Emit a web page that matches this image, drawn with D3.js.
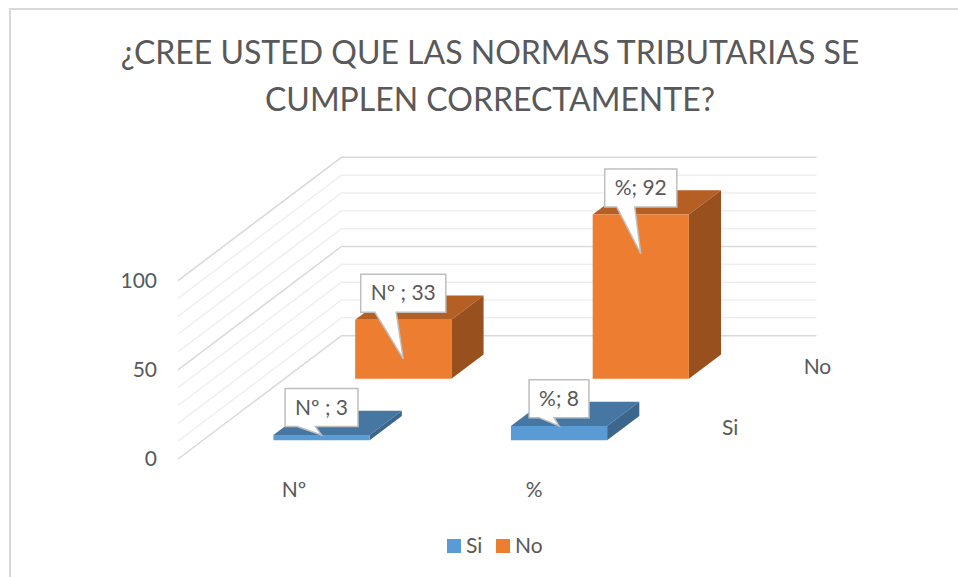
<!DOCTYPE html>
<html>
<head>
<meta charset="utf-8">
<script src="https://cdn.jsdelivr.net/npm/d3@7"></script>
<style>
  html, body { margin: 0; padding: 0; background: #fff; }
  svg { display: block; }
  text { font-family: Lato, sans-serif; fill: #595959; white-space: pre; }
</style>
</head>
<body>
<div id="vis"></div>
<script>
var titleLines = ["¿CREE USTED QUE LAS NORMAS TRIBUTARIAS SE", "CUMPLEN CORRECTAMENTE?"];
var categories = ["Nº ", "%"];
var seriesNames = ["Si", "No"];
var siValues = [3, 8];
var noValues = [33, 92];
var valueTicks = [0, 50, 100];
var gridValues = [0, 10, 20, 30, 40, 50, 60, 70, 80, 90, 100];

var width = 958, height = 577;

var svg = d3.select("#vis").append("svg")
    .attr("width", width)
    .attr("height", height);

// chart frame, only top and left edges are visible in the picture
svg.append("path")
    .attr("d", "M10,577V9H958")
    .attr("fill", "none")
    .attr("stroke", "#d9d9d9")
    .attr("stroke-width", 2);

svg.selectAll(".title")
    .data(titleLines)
    .enter().append("text")
    .attr("class", "title")
    .attr("x", 490)
    .attr("y", function(d, i) { return 64 + i * 47; })
    .attr("text-anchor", "middle")
    .attr("font-size", 32)
    .text(function(d) { return d; });

////////// scales //////////

var floorLeft = 178, floorBottom = 459, floorWidth = 475;

var x = d3.scaleBand()
    .domain(categories)
    .range([floorLeft, floorLeft + floorWidth])
    .paddingInner(0.595)
    .paddingOuter(0.2975);

var y = d3.scaleLinear().domain([0, 100]).range([floorBottom, floorBottom - 178.4]);

// depth goes from the front of the floor (0) to the back wall (1)
var depthX = d3.scaleLinear().domain([0, 1]).range([0, 163.5]);
var depthY = d3.scaleLinear().domain([0, 1]).range([0, -123.3]);

var depthBand = d3.scaleBand().domain(seriesNames).range([0, 1]);
var barDepth = 0.197;

function project(px, value, depth) {
  return [px + depthX(depth), y(value) + depthY(depth)];
}

////////// walls //////////

var wallLine = d3.line();

svg.selectAll(".grid")
    .data(gridValues)
    .enter().append("path")
    .attr("class", "grid")
    .attr("fill", "none")
    .attr("stroke", function(d) { return d % 50 == 0 ? "#d9d9d9" : "#efefef"; })
    .attr("stroke-width", 1.5)
    .attr("d", function(d) {
      return wallLine([
        project(floorLeft, d, 0),
        project(floorLeft, d, 1),
        project(floorLeft + floorWidth, d, 1)
      ]);
    });

////////// axes //////////

var yAxis = svg.append("g")
    .attr("transform", "translate(" + (floorLeft - 18) + ",0)")
    .call(d3.axisLeft(y).tickValues(valueTicks).tickSize(0));

var xAxis = svg.append("g")
    .attr("transform", "translate(0," + (floorBottom + 14) + ")")
    .call(d3.axisBottom(x).tickSize(0).tickPadding(9));

[yAxis, xAxis].forEach(function(axis) {
  axis.select(".domain").remove();
  axis.selectAll("text")
      .attr("font-family", null)
      .attr("font-size", 21)
      .style("font-family", "Lato, sans-serif")
      .style("fill", "#595959");
});

svg.selectAll(".series-label")
    .data(seriesNames)
    .enter().append("text")
    .attr("class", "series-label")
    .attr("font-size", 21)
    .attr("dominant-baseline", "middle")
    .attr("x", function(d) { return project(floorLeft + floorWidth + 28, 0, depthBand(d) + depthBand.bandwidth() / 2)[0]; })
    .attr("y", function(d) { return project(0, 0, depthBand(d) + depthBand.bandwidth() / 2)[1] + 2; })
    .text(function(d) { return d; });

////////// bars //////////

var colors = {
  Si: { front: "#5b9bd5", top: "#4677a3", side: "#3c668c" },
  No: { front: "#ed7d31", top: "#b55f25", side: "#98501f" }
};

// how far the callout tip sits below the bar top, and the length of its tail
var tipDrop = { Si: 0, No: 39 };
var tailLength = { Si: 8.4, No: 46.5 };

var bars = [];
seriesNames.slice().reverse().forEach(function(name) {
  var values = name == "Si" ? siValues : noValues;
  categories.forEach(function(cat, i) {
    bars.push({ series: name, category: cat, value: values[i] });
  });
});

function poly(points) {
  return "M" + points.join("L") + "Z";
}

var bar = svg.selectAll(".bar")
    .data(bars)
    .enter().append("g")
    .attr("class", "bar");

function barFront(d) {
  return depthBand(d.series) + (depthBand.bandwidth() - barDepth) / 2;
}

bar.append("path")
    .attr("fill", function(d) { return colors[d.series].top; })
    .attr("d", function(d) {
      var a = x(d.category), b = a + x.bandwidth(), f = barFront(d), k = f + barDepth;
      return poly([project(a, d.value, f), project(b, d.value, f), project(b, d.value, k), project(a, d.value, k)]);
    });

bar.append("path")
    .attr("fill", function(d) { return colors[d.series].side; })
    .attr("d", function(d) {
      var b = x(d.category) + x.bandwidth(), f = barFront(d), k = f + barDepth;
      return poly([project(b, 0, f), project(b, d.value, f), project(b, d.value, k), project(b, 0, k)]);
    });

bar.append("path")
    .attr("fill", function(d) { return colors[d.series].front; })
    .attr("d", function(d) {
      var a = x(d.category), b = a + x.bandwidth(), f = barFront(d);
      return poly([project(a, 0, f), project(b, 0, f), project(b, d.value, f), project(a, d.value, f)]);
    });

////////// callouts //////////

var callout = svg.selectAll(".callout")
    .data(bars)
    .enter().append("g")
    .attr("class", "callout");

var calloutShape = callout.append("path")
    .attr("fill", "#fff")
    .attr("stroke", "#bfbfbf")
    .attr("stroke-width", 1.5);

var calloutText = callout.append("text")
    .attr("text-anchor", "middle")
    .attr("font-size", 21)
    .text(function(d) { return d.category + "; " + d.value; });

calloutText.each(function(d) {
  var top = project(x(d.category) + x.bandwidth() / 2, d.value, barFront(d));
  d.tipX = top[0];
  d.tipY = top[1] + tipDrop[d.series];
  d.w = this.getComputedTextLength() + 20;
  d.bottom = d.tipY - tailLength[d.series];
});

calloutText
    .attr("x", function(d) { return d.tipX; })
    .attr("y", function(d) { return d.bottom - 12; });

// wedge callout: the tail leaves the box between 1/6 and 5/12 of its width
calloutShape.attr("d", function(d) {
  var l = d.tipX - d.w / 2, r = d.tipX + d.w / 2, b = d.bottom, t = b - 38;
  return poly([
    [l, t], [r, t], [r, b],
    [l + d.w * 5 / 12, b],
    [d.tipX, d.tipY],
    [l + d.w / 6, b],
    [l, b]
  ]);
});

////////// legend //////////

var legendX = d3.scaleOrdinal().domain(seriesNames).range([447, 496]);

var legend = svg.selectAll(".legend")
    .data(seriesNames)
    .enter().append("g")
    .attr("class", "legend")
    .attr("transform", function(d) { return "translate(" + legendX(d) + ",539)"; });

legend.append("rect")
    .attr("width", 14)
    .attr("height", 14)
    .attr("fill", function(d) { return colors[d].front; });

legend.append("text")
    .attr("x", 19)
    .attr("y", 14)
    .attr("font-size", 21)
    .text(function(d) { return d; });
</script>
</body>
</html>
